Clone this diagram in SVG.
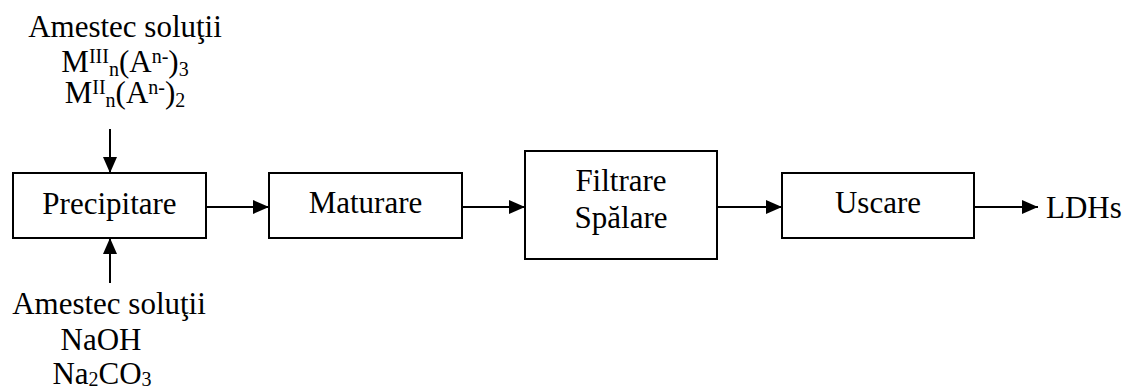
<svg xmlns="http://www.w3.org/2000/svg" width="1125" height="389" viewBox="0 0 1125 389">
  <style>
    text { font-family: "Liberation Serif", "Times New Roman", serif; font-size: 31px; fill: #000; }
    .box { fill: #fff; stroke: #000; stroke-width: 2; }
    .conn { stroke: #000; stroke-width: 2; fill: none; marker-end: url(#arrow); }
    .s { font-size: 20px; }
  </style>
  <defs>
    <marker id="arrow" markerUnits="userSpaceOnUse" markerWidth="16" markerHeight="14" refX="16" refY="7" orient="auto">
      <path d="M0,0 L16,7 L0,14 Z" fill="#000"/>
    </marker>
  </defs>
  <rect width="1125" height="389" fill="#fff"/>

  <g id="connectors">
    <line class="conn" x1="110" y1="129" x2="110" y2="173"/>
    <line class="conn" x1="110" y1="283" x2="110" y2="238"/>
    <line class="conn" x1="206" y1="207" x2="269" y2="207"/>
    <line class="conn" x1="462" y1="207" x2="525" y2="207"/>
    <line class="conn" x1="717" y1="207" x2="782" y2="207"/>
    <line class="conn" x1="974" y1="207" x2="1038" y2="207"/>
  </g>

  <g id="input-top">
    <text x="125" y="37" text-anchor="middle">Amestec soluţii</text>
    <text x="125" y="72" text-anchor="middle">M<tspan class="s" dy="-9">III</tspan><tspan class="s" dy="13">n</tspan><tspan dy="-4">(A</tspan><tspan class="s" dy="-9">n-</tspan><tspan dy="9">)</tspan><tspan class="s" dy="4">3</tspan></text>
    <text x="125" y="103" text-anchor="middle">M<tspan class="s" dy="-9">II</tspan><tspan class="s" dy="13">n</tspan><tspan dy="-4">(A</tspan><tspan class="s" dy="-9">n-</tspan><tspan dy="9">)</tspan><tspan class="s" dy="4">2</tspan></text>
  </g>

  <g id="input-bottom">
    <text x="109" y="314" text-anchor="middle">Amestec soluţii</text>
    <text x="101" y="350" text-anchor="middle">NaOH</text>
    <text x="102" y="384" text-anchor="middle">Na<tspan class="s" dy="2">2</tspan><tspan dy="-2">CO</tspan><tspan class="s" dy="2">3</tspan></text>
  </g>

  <g id="precipitare">
    <rect class="box" x="13" y="173" width="193" height="65"/>
    <text x="109.5" y="214" text-anchor="middle">Precipitare</text>
  </g>

  <g id="maturare">
    <rect class="box" x="269" y="173" width="193" height="65"/>
    <text x="365.5" y="213" text-anchor="middle">Maturare</text>
  </g>

  <g id="filtrare">
    <rect class="box" x="525" y="151" width="192" height="108"/>
    <text x="621" y="191" text-anchor="middle">Filtrare</text>
    <text x="621" y="228" text-anchor="middle">Spălare</text>
  </g>

  <g id="uscare">
    <rect class="box" x="782" y="173" width="192" height="65"/>
    <text x="878" y="213" text-anchor="middle">Uscare</text>
  </g>

  <g id="ldhs">
    <text x="1046" y="218">LDHs</text>
  </g>
</svg>
